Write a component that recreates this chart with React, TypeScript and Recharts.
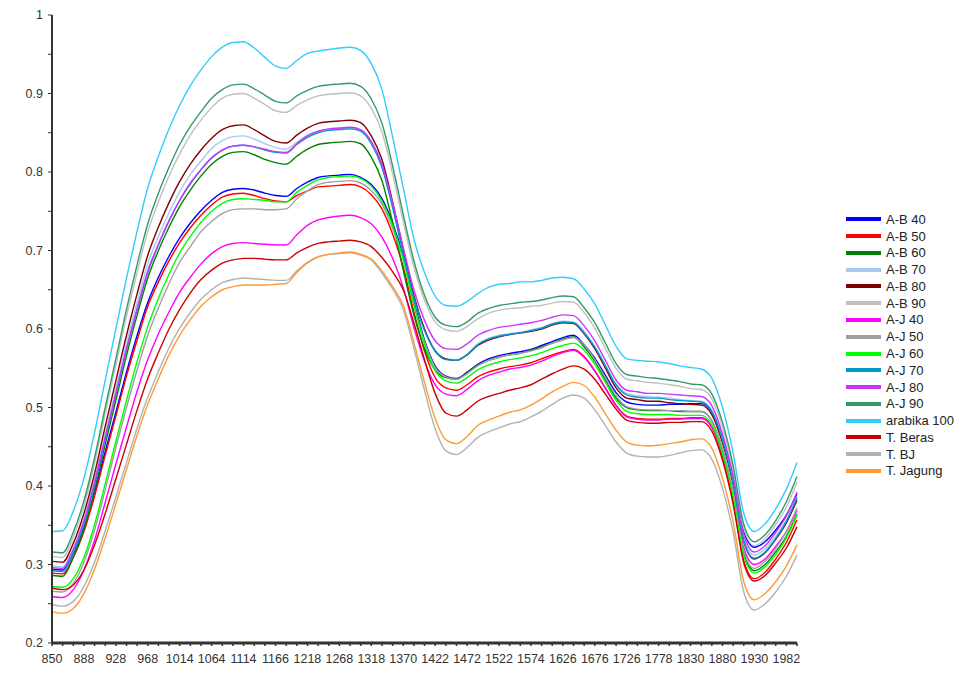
import React from 'react';
import { LineChart, Line, XAxis, YAxis, Legend } from 'recharts';

// Wavelength samples (nm) along the spectrum
const wavelengths = [
  850, 863, 875, 888, 901, 915, 928, 941, 955, 968, 983, 999, 1014, 1031, 1047, 1064, 1081, 1097,
  1114, 1131, 1149, 1166, 1183, 1201, 1218, 1235, 1251, 1268, 1285, 1301, 1318, 1335, 1353, 1370,
  1387, 1405, 1422, 1439, 1455, 1472, 1489, 1505, 1522, 1539, 1557, 1574, 1591, 1609, 1626, 1643,
  1659, 1676, 1693, 1709, 1726, 1743, 1761, 1778, 1795, 1813, 1830, 1847, 1863, 1880, 1897, 1913,
  1930, 1947, 1965, 1982, 1999,
];

const yTicks = [0.2, 0.25, 0.3, 0.35, 0.4, 0.45, 0.5, 0.55, 0.6, 0.65, 0.7, 0.75, 0.8, 0.85, 0.9, 0.95, 1];

// Absorbance spectra per sample
const AB40 = [.294,.293,.314,.347,.392,.444,.494,.545,.592,.634,.666,.693,.716,.735,.751,.764,.774,.778,.779,.777,.773,.770,.769,.779,.787,.793,.795,.796,.797,.793,.784,.766,.735,.693,.636,.586,.553,.540,.537,.545,.555,.562,.566,.569,.571,.574,.579,.584,.589,.592,.580,.563,.541,.519,.507,.504,.503,.503,.504,.504,.505,.505,.494,.461,.411,.342,.322,.329,.344,.363,.390];
const AB50 = [.289,.288,.309,.342,.387,.439,.489,.540,.586,.629,.660,.687,.710,.729,.745,.758,.768,.772,.773,.770,.766,.763,.762,.770,.776,.781,.782,.783,.784,.781,.771,.753,.721,.679,.622,.572,.538,.525,.522,.529,.539,.545,.549,.552,.554,.557,.562,.567,.571,.574,.565,.547,.525,.503,.489,.486,.485,.485,.486,.486,.487,.487,.475,.437,.381,.305,.282,.290,.307,.328,.357];
const AB60 = [.286,.285,.309,.345,.395,.453,.509,.566,.618,.665,.700,.730,.756,.777,.795,.810,.820,.825,.826,.822,.816,.812,.810,.820,.829,.835,.837,.838,.839,.836,.819,.789,.736,.675,.618,.575,.548,.538,.536,.544,.554,.560,.564,.567,.569,.573,.577,.582,.587,.590,.577,.559,.535,.512,.500,.497,.496,.496,.496,.495,.495,.495,.483,.446,.390,.315,.292,.300,.316,.336,.364];
const AB70 = [.298,.297,.321,.358,.409,.467,.524,.582,.634,.683,.718,.748,.775,.797,.814,.830,.840,.845,.846,.842,.836,.831,.829,.838,.847,.852,.854,.855,.856,.853,.837,.807,.756,.697,.641,.599,.573,.562,.561,.568,.581,.588,.592,.594,.596,.599,.602,.607,.610,.609,.597,.578,.554,.530,.518,.515,.514,.513,.512,.510,.509,.508,.496,.460,.407,.334,.312,.320,.336,.357,.386];
const AB80 = [.304,.303,.327,.365,.416,.476,.534,.592,.645,.694,.730,.761,.788,.810,.828,.843,.854,.859,.860,.854,.846,.839,.837,.847,.856,.862,.864,.865,.866,.863,.846,.816,.762,.701,.643,.600,.572,.562,.560,.567,.579,.586,.590,.593,.595,.597,.600,.605,.608,.607,.594,.575,.550,.525,.512,.510,.508,.508,.506,.505,.504,.503,.491,.455,.402,.329,.307,.315,.332,.353,.382];
const AB90 = [.310,.309,.335,.374,.429,.492,.554,.616,.672,.724,.762,.795,.823,.847,.866,.882,.894,.899,.900,.894,.886,.878,.876,.885,.892,.897,.899,.900,.901,.897,.881,.851,.798,.737,.679,.637,.609,.599,.597,.603,.613,.620,.624,.626,.627,.629,.630,.633,.635,.634,.621,.601,.575,.550,.536,.534,.532,.531,.529,.527,.524,.523,.511,.475,.420,.346,.324,.333,.351,.373,.405];
const AJ40 = [.259,.258,.268,.293,.331,.379,.428,.475,.521,.561,.594,.622,.647,.666,.683,.696,.705,.709,.710,.709,.708,.707,.707,.720,.732,.739,.742,.744,.745,.742,.734,.717,.690,.653,.602,.559,.529,.517,.515,.523,.534,.541,.545,.549,.551,.554,.559,.565,.570,.573,.564,.546,.524,.502,.488,.485,.484,.484,.485,.485,.486,.486,.475,.441,.390,.321,.300,.307,.323,.342,.369];
const AJ50 = [.266,.265,.276,.303,.344,.395,.449,.500,.548,.592,.627,.658,.685,.705,.724,.737,.747,.752,.753,.753,.752,.752,.753,.766,.776,.784,.787,.788,.789,.786,.776,.759,.728,.688,.632,.584,.551,.539,.536,.543,.553,.560,.564,.567,.569,.572,.576,.582,.586,.589,.580,.561,.538,.515,.501,.498,.497,.497,.496,.496,.495,.495,.483,.447,.392,.317,.295,.304,.320,.342,.372];
const AJ60 = [.272,.271,.282,.309,.351,.403,.457,.509,.559,.603,.639,.670,.697,.718,.736,.750,.760,.765,.766,.765,.764,.762,.762,.774,.783,.790,.793,.794,.795,.792,.782,.763,.732,.689,.631,.581,.547,.534,.531,.538,.548,.554,.558,.561,.563,.566,.570,.575,.579,.582,.573,.555,.532,.509,.495,.492,.491,.491,.491,.490,.490,.490,.478,.441,.386,.311,.289,.297,.313,.334,.363];
const AJ70 = [.292,.291,.315,.351,.401,.459,.516,.573,.625,.672,.707,.738,.764,.785,.803,.818,.828,.833,.834,.832,.828,.825,.824,.835,.844,.850,.853,.854,.855,.852,.836,.806,.755,.696,.640,.598,.572,.561,.560,.567,.580,.587,.591,.593,.595,.598,.601,.606,.609,.608,.595,.577,.553,.529,.516,.513,.512,.512,.510,.509,.508,.507,.495,.459,.404,.330,.308,.316,.333,.355,.385];
const AJ80 = [.296,.295,.319,.355,.405,.462,.518,.575,.626,.674,.708,.738,.764,.786,.803,.818,.828,.833,.834,.832,.829,.826,.825,.836,.846,.852,.855,.856,.857,.854,.839,.810,.761,.704,.650,.611,.585,.575,.574,.581,.592,.598,.602,.604,.606,.608,.611,.615,.618,.617,.604,.585,.560,.535,.522,.520,.518,.518,.517,.516,.515,.514,.502,.466,.412,.338,.316,.324,.341,.362,.392];
const AJ90 = [.316,.315,.341,.381,.436,.500,.562,.625,.682,.734,.773,.806,.835,.858,.877,.894,.905,.911,.912,.906,.898,.890,.888,.897,.904,.909,.911,.912,.913,.909,.893,.862,.808,.746,.687,.643,.615,.605,.603,.609,.620,.626,.630,.632,.634,.635,.637,.640,.642,.641,.627,.608,.582,.556,.542,.540,.538,.537,.535,.533,.530,.529,.517,.481,.426,.351,.329,.338,.356,.380,.412];
const ARABIKA100 = [.342,.343,.368,.410,.468,.535,.600,.665,.725,.780,.820,.855,.885,.910,.930,.947,.959,.965,.966,.958,.946,.935,.932,.942,.951,.954,.956,.958,.959,.955,.938,.905,.845,.780,.715,.672,.642,.630,.629,.635,.645,.653,.657,.658,.660,.660,.662,.665,.666,.664,.651,.632,.605,.578,.562,.560,.559,.558,.556,.553,.551,.549,.537,.500,.442,.365,.342,.352,.371,.396,.430];
const TBERAS = [.270,.268,.274,.293,.325,.365,.409,.453,.497,.537,.570,.600,.625,.646,.663,.675,.684,.688,.690,.690,.689,.688,.688,.697,.704,.709,.711,.712,.713,.711,.705,.691,.673,.650,.608,.561,.518,.493,.489,.497,.508,.514,.518,.522,.525,.529,.536,.543,.549,.553,.549,.536,.517,.498,.484,.481,.480,.480,.481,.481,.482,.482,.470,.433,.377,.302,.279,.286,.302,.321,.348];
const TBJ = [.249,.247,.253,.272,.303,.343,.386,.430,.474,.513,.546,.576,.601,.621,.638,.650,.659,.663,.665,.664,.663,.662,.662,.674,.685,.692,.695,.696,.697,.694,.688,.671,.651,.625,.576,.522,.473,.445,.440,.449,.462,.469,.474,.479,.482,.488,.495,.504,.512,.516,.512,.497,.477,.456,.442,.438,.437,.437,.439,.442,.445,.446,.434,.397,.341,.265,.242,.250,.265,.285,.312];
const TJAGUNG = [.240,.238,.244,.263,.294,.334,.377,.421,.465,.504,.537,.567,.592,.612,.629,.641,.650,.654,.656,.656,.656,.657,.658,.672,.684,.692,.695,.697,.698,.695,.689,.674,.654,.630,.583,.532,.486,.459,.454,.463,.477,.484,.489,.494,.497,.503,.511,.520,.527,.532,.528,.513,.492,.471,.456,.452,.451,.452,.454,.456,.459,.460,.448,.410,.354,.278,.255,.263,.278,.298,.325];

const series = [
  { key: 'ab40', name: 'A-B 40', color: '#0000ff', values: AB40 },
  { key: 'ab50', name: 'A-B 50', color: '#ff0000', values: AB50 },
  { key: 'ab60', name: 'A-B 60', color: '#008000', values: AB60 },
  { key: 'ab70', name: 'A-B 70', color: '#a6caf0', values: AB70 },
  { key: 'ab80', name: 'A-B 80', color: '#800000', values: AB80 },
  { key: 'ab90', name: 'A-B 90', color: '#c0c0c0', values: AB90 },
  { key: 'aj40', name: 'A-J 40', color: '#ff00ff', values: AJ40 },
  { key: 'aj50', name: 'A-J 50', color: '#a0a0a4', values: AJ50 },
  { key: 'aj60', name: 'A-J 60', color: '#00ff00', values: AJ60 },
  { key: 'aj70', name: 'A-J 70', color: '#0099cc', values: AJ70 },
  { key: 'aj80', name: 'A-J 80', color: '#cc33ff', values: AJ80 },
  { key: 'aj90', name: 'A-J 90', color: '#339966', values: AJ90 },
  { key: 'ara100', name: 'arabika 100', color: '#33ccff', values: ARABIKA100 },
  { key: 'tberas', name: 'T. Beras', color: '#cc0000', values: TBERAS },
  { key: 'tbj', name: 'T. BJ', color: '#b2b2b2', values: TBJ },
  { key: 'tjagung', name: 'T. Jagung', color: '#ff9933', values: TJAGUNG },
];

const rows = wavelengths.map((nm, i) => {
  const row: Record<string, number | string> = { nm: String(nm) };
  series.forEach((s) => {
    row[s.key] = s.values[i];
  });
  return row;
});

const FONT = '"Liberation Sans", Arial, sans-serif';

// Every sample gets a tick mark; only every third one is labelled.
function WavelengthTick(props: any) {
  const { x, y, payload } = props;
  const idx = wavelengths.indexOf(Number(payload.value));
  if (idx % 3 !== 0) return <g />;
  return (
    <text x={x} y={y} dy="0.71em" textAnchor="middle" fontSize={12.5} fill="#333" fontFamily={FONT}>
      {payload.value}
    </text>
  );
}

const formatY = (v: number) => {
  const tenth = Math.round(v * 10);
  if (Math.abs(v * 10 - tenth) > 1e-6) return '';
  return v === 1 ? '1' : v.toFixed(1);
};

function SeriesLegend() {
  return (
    <div style={{ fontFamily: FONT, fontSize: 13, color: '#222' }}>
      {series.map((s) => (
        <div key={s.key} style={{ display: 'flex', alignItems: 'center', height: 16.78 }}>
          <div style={{ width: 35, height: 4, background: s.color, marginRight: 5 }} />
          <span style={{ whiteSpace: 'nowrap' }}>{s.name}</span>
        </div>
      ))}
    </div>
  );
}

export default function App() {
  return (
    <div style={{ position: 'absolute', left: 0, top: 0, width: 956, height: 688, background: '#fff' }}>
      <LineChart width={956} height={688} data={rows} margin={{ top: 15, right: 159, bottom: 0, left: 0 }}>
        <XAxis
          dataKey="nm"
          interval={0}
          height={45}
          tick={<WavelengthTick />}
          tickSize={3}
          tickMargin={8}
          tickLine={{ stroke: '#333', strokeWidth: 1.5 }}
          axisLine={{ stroke: '#333', strokeWidth: 3 }}
        />
        <YAxis
          type="number"
          domain={[0.2, 1]}
          ticks={yTicks}
          interval={0}
          width={52}
          tickFormatter={formatY}
          tickSize={4}
          tickMargin={5}
          tick={{ fontSize: 12.5, fill: '#333', fontFamily: FONT }}
          tickLine={{ stroke: '#333' }}
          axisLine={{ stroke: '#333', strokeWidth: 2 }}
        />
        <Legend
          layout="vertical"
          verticalAlign="middle"
          align="center"
          wrapperStyle={{ position: 'absolute', left: 846, top: 211, width: 110 }}
          content={() => <SeriesLegend />}
        />
        {series.map((s) => (
          <Line
            key={s.key}
            dataKey={s.key}
            name={s.name}
            type="monotone"
            stroke={s.color}
            strokeWidth={1.4}
            dot={false}
            activeDot={false}
            isAnimationActive={false}
          />
        ))}
      </LineChart>
    </div>
  );
}
